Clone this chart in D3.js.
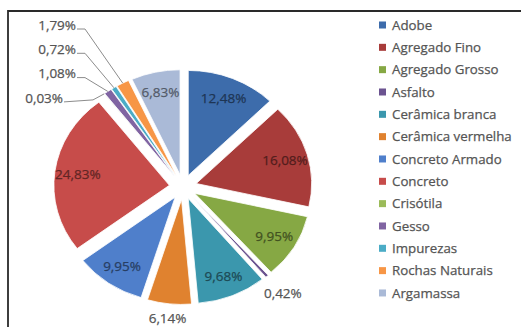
<!DOCTYPE html>
<html>
<head>
<meta charset="utf-8">
<script src="https://cdn.jsdelivr.net/npm/d3@7"></script>
<style>
  html, body { margin: 0; padding: 0; background: #fff; }
  svg { display: block; }
</style>
</head>
<body>
<svg id="chart" width="521" height="327"></svg>
<script>
// slice order, clockwise from 12 o'clock
const categories = ['Adobe', 'Agregado Fino', 'Agregado Grosso', 'Asfalto', 'Cerâmica branca',
    'Cerâmica vermelha', 'Concreto Armado', 'Concreto', 'Crisótila', 'Gesso', 'Impurezas',
    'Rochas Naturais', 'Argamassa'];
const percents = [12.48, 16.08, 9.95, 0.42, 9.68, 6.14, 9.95, 24.83, 0.03, 1.08, 0.72, 1.79, 6.83];
const colors = ['#3d6cab', '#a83c3a', '#86a844', '#6b5390', '#3b97ad', '#e0822f', '#4f7fcb',
    '#c74c4a', '#9bbb59', '#8064a2', '#4bacc6', '#f79646', '#aabad7'];
// how each data label is placed
const labelMode = ['in', 'in', 'in', 'out', 'in', 'out', 'in', 'in', 'callout', 'callout', 'callout', 'callout', 'in'];

let data = categories.map((c, i) => ({name: c, value: percents[i], color: colors[i], mode: labelMode[i]}));

let fmt = v => v.toFixed(2).replace('.', ',') + '%';

let SVG = d3.select('#chart');
let font = "'Open Sans', 'DejaVu Sans', sans-serif";

// frame (only top and left edges show in the crop)
SVG.append('path')
    .attr('d', 'M8,327 V11 H521')
    .style('fill', 'none')
    .style('stroke', '#2a2a2a')
    .style('stroke-width', 1.8);

let cx = 183, cy = 187, r = 105, explode = 12.5, sx = 1.1;

let pie = d3.pie().sort(null).value(d => d.value);
let arcs = pie(data);
let arc = d3.arc().innerRadius(0).outerRadius(r);

let mid = d => (d.startAngle + d.endAngle) / 2;
// point at distance k from the pie centre along angle a, in page coordinates
let at = (a, k) => [cx + sx * k * Math.sin(a), cy - k * Math.cos(a)];

let pieG = SVG.append('g')
    .attr('transform', 'translate(' + cx + ',' + cy + ') scale(' + sx + ',1)');

pieG.selectAll('path')
    .data(arcs)
    .enter()
    .append('path')
    .attr('transform', d => 'translate(' + (explode * Math.sin(mid(d))) + ',' + (-explode * Math.cos(mid(d))) + ')')
    .attr('d', arc)
    .style('fill', d => d.data.color)
    .style('stroke', '#fff')
    .style('stroke-width', 0.8)
    .attr('vector-effect', 'non-scaling-stroke');

let labels = SVG.append('g')
    .style('font-family', font)
    .style('font-size', '13.5px');

// labels inside the slices
arcs.filter(d => d.data.mode === 'in').forEach(d => {
    let [x, y] = at(mid(d), explode + r * 0.8);
    let c = d3.color(d.data.color).darker(2);
    labels.append('text')
        .attr('x', x).attr('y', y)
        .attr('dy', '0.35em')
        .style('text-anchor', 'middle')
        .style('fill', c)
        .style('stroke', c)
        .style('stroke-width', 0.25)
        .text(fmt(d.data.value));
});

// labels just outside the slice edge
arcs.filter(d => d.data.mode === 'out').forEach(d => {
    let a = mid(d);
    let t = labels.append('text')
        .attr('dy', '0.35em')
        .style('text-anchor', 'middle')
        .style('fill', '#555')
        .style('stroke', '#555')
        .style('stroke-width', 0.25)
        .text(fmt(d.data.value));
    let bb = t.node().getBBox();
    let push = Math.abs(Math.sin(a)) * bb.width / 2 / sx + Math.abs(Math.cos(a)) * bb.height / 2 + 4;
    let [x, y] = at(a, explode + r + push);
    t.attr('x', x).attr('y', y);
});

// stacked callouts for the tiny slices, top to bottom
let callouts = arcs.filter(d => d.data.mode === 'callout').reverse();
callouts.forEach((d, i) => {
    let last = i === callouts.length - 1;
    let xr = last ? 63 : 76, y = 25 + i * 24.3;
    labels.append('text')
        .attr('x', xr).attr('y', y)
        .attr('dy', '0.35em')
        .style('text-anchor', 'end')
        .style('fill', '#555')
        .style('stroke', '#555')
        .style('stroke-width', 0.25)
        .text(fmt(d.data.value));
    let [px, py] = at(mid(d), explode + r);
    SVG.append('polyline')
        .attr('points', [[xr + 1, y + 4], [xr + (last ? 30 : 9), y + 4 - (last ? 2 : 0)], [px, py]].join(' '))
        .style('fill', 'none')
        .style('stroke', '#8c8c8c')
        .style('stroke-width', 1);
});

// legend
let step = 22.33;
let legend = SVG.append('g')
    .attr('transform', 'translate(379,25)')
    .style('font-family', font)
    .style('font-size', '13.3px');

let rows = legend.selectAll('g')
    .data(data)
    .enter()
    .append('g')
    .attr('transform', (d, i) => 'translate(0,' + (i * step) + ')');

rows.append('rect')
    .attr('x', 0).attr('y', -3.5)
    .attr('width', 7).attr('height', 7)
    .style('fill', d => d.color);

rows.append('text')
    .attr('x', 13).attr('dy', '0.35em')
    .style('fill', '#555')
    .style('stroke', '#555')
    .style('stroke-width', 0.25)
    .text(d => d.name);
</script>
</body>
</html>
